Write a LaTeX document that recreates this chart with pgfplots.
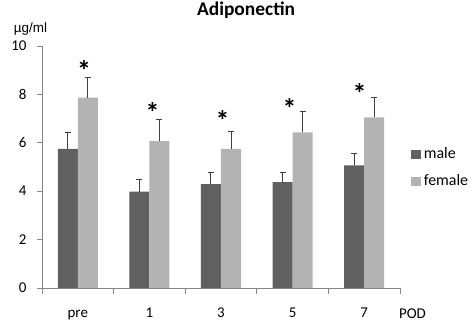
\documentclass[border=0pt]{standalone}
\usepackage{pgfplots}
\pgfplotsset{compat=1.18}
\usepackage{fontspec}
\setmainfont{Carlito}
\newfontfamily\arialfont{Liberation Sans}
\definecolor{maleC}{RGB}{96,96,96}
\definecolor{femaleC}{RGB}{179,179,179}
\definecolor{axC}{RGB}{134,134,134}
\definecolor{errC}{RGB}{64,64,64}
\begin{document}
\begin{tikzpicture}
\path[use as bounding box] (0,0) rectangle (473bp,325bp);
\begin{axis}[
  at={(42bp,37bp)}, anchor=south west,
  scale only axis, width=358bp, height=242bp,
  xmin=-0.5, xmax=4.5, ymin=0, ymax=10,
  axis lines*=left,
  axis line style={color=axC, line width=0.8bp},
  every tick/.style={color=axC, line width=0.8bp},
  tick align=outside,
  xtick={0,1,2,3,4},
  xticklabels={pre,1,3,5,7},
  major x tick style={draw=none},
  minor xtick={-0.5,0.5,1.5,2.5,3.5,4.5},
  minor tick length=6bp,
  major tick length=5bp,
  ytick={0,2,4,6,8,10},
  /pgf/number format/assume math mode=true,
  ticklabel style={font=\fontsize{15}{17}\selectfont, text=black},
  xticklabel style={anchor=base, yshift=-24bp},
  yticklabel style={xshift=-7bp},
  title={Adiponectin},
  title style={at={(0.57,1.124)}, anchor=center, font=\bfseries\fontsize{19.5}{21}\selectfont},
  xlabel={POD},
  xlabel style={at={(1.035,-0.124)}, anchor=base, font=\fontsize{15}{17}\selectfont},
  ylabel={\arialfont µg/ml},
  ylabel style={at={(-0.032,1.070)}, rotate=-90, anchor=center, font=\fontsize{13.5}{15}\selectfont},
  legend style={at={(1.031,0.494)}, anchor=west, draw=none, fill=none,
    font=\fontsize{16}{18}\selectfont, inner xsep=0pt, inner ysep=0pt,
    nodes={inner sep=0pt, text height=10bp, text depth=3bp},
    row sep=14bp, legend cell align=left,
    /tikz/every odd column/.append style={column sep=3bp}},
  legend image code/.code={\fill[#1,draw=none] (0bp,-4.5bp) rectangle (9.5bp,5bp);},
  error bars/y dir=plus, error bars/y explicit,
  error bars/error bar style={color=errC, line width=1bp},
  error bars/error mark options={rotate=90, mark size=3bp, color=errC, line width=1bp},
]
\addplot[ybar, bar width=0.28, bar shift=0, fill=maleC, draw=none]
  coordinates {(-0.14,5.75) +- (0,0.69) (0.86,3.98) +- (0,0.50) (1.86,4.29) +- (0,0.50) (2.86,4.37) +- (0,0.42) (3.86,5.07) +- (0,0.50)};
\addlegendentry{male}
\addplot[ybar, bar width=0.28, bar shift=0, fill=femaleC, draw=none]
  coordinates {(0.14,7.87) +- (0,0.81) (1.14,6.07) +- (0,0.89) (2.14,5.75) +- (0,0.72) (3.14,6.43) +- (0,0.87) (4.14,7.05) +- (0,0.84)};
\addlegendentry{female}
\addplot[forget plot, draw=none, mark=none, error bars/y dir=none,
  nodes near coords={\textbf{*}},
  every node near coord/.style={anchor=center, font=\bfseries\fontsize{28}{28}\selectfont, yshift=-4bp}]
  coordinates {(0.087,9.17) (1.043,7.40) (2.021,7.08) (2.957,7.60) (3.934,8.22)};
\end{axis}
\end{tikzpicture}
\end{document}
